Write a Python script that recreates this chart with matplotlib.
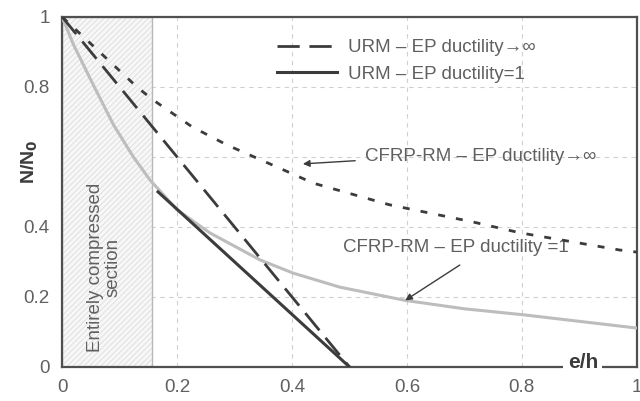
import matplotlib.pyplot as plt
from matplotlib.patches import Rectangle

plt.rcParams['font.family'] = ['Liberation Sans', 'DejaVu Sans']
plt.rcParams['hatch.linewidth'] = 0.6

# URM - EP ductility -> inf (long dashes)
urm_inf_x = [0.0, 0.5]
urm_inf_y = [1.0, 0.0]

# URM - EP ductility = 1 (solid, beyond the compressed section)
urm_1_x = [0.167, 0.5]
urm_1_y = [0.50, 0.0]

# CFRP-RM - EP ductility -> inf (short dashes)
cfrp_inf_x = [0.0, 0.028, 0.078, 0.13, 0.158, 0.226, 0.287, 0.374, 0.437, 0.57, 0.715, 0.797, 0.97, 1.0]
cfrp_inf_y = [1.0, 0.957, 0.88, 0.80, 0.763, 0.686, 0.634, 0.571, 0.525, 0.463, 0.414, 0.383, 0.334, 0.328]

# CFRP-RM - EP ductility = 1 (light grey)
cfrp_1_x = [0.0, 0.02, 0.056, 0.09, 0.124, 0.153, 0.2, 0.257, 0.344, 0.402, 0.483, 0.597, 0.7, 0.802, 1.0]
cfrp_1_y = [1.0, 0.92, 0.80, 0.69, 0.60, 0.534, 0.449, 0.383, 0.306, 0.268, 0.228, 0.19, 0.166, 0.149, 0.111]

compressed_limit = 0.157

y_ticks = [0, 0.2, 0.4, 0.6, 0.8, 1]
y_tick_labels = ['0', '0.2', '0.4', '', '0.8', '1']
x_ticks = [0, 0.2, 0.4, 0.6, 0.8, 1]
x_tick_labels = ['0', '0.2', '0.4', '0.6', '0.8', '1']

txt = '#606060'
dark = '#3c3c3c'

fig = plt.figure(figsize=(6.4, 4.01), dpi=100)
ax = fig.add_axes([0.097, 0.085, 0.898, 0.873])

ax.add_patch(Rectangle((0, 0), compressed_limit, 1.0, facecolor='#f7f7f7',
                       edgecolor='#dcdcdc', hatch='//////', linewidth=0, zorder=1))
ax.add_patch(Rectangle((0, 0), compressed_limit, 1.0, facecolor='none',
                       edgecolor='#b8b8b8', linewidth=1.0, zorder=1.5))

ax.plot(cfrp_1_x, cfrp_1_y, color='#bdbdbd', lw=2.2, zorder=3)
l1, = ax.plot(urm_inf_x, urm_inf_y, color=dark, lw=2.0, dashes=(8, 3.5), zorder=4,
              label='URM \u2013 EP ductility\u2192\u221e')
l2, = ax.plot(urm_1_x, urm_1_y, color=dark, lw=2.2, zorder=4,
              label='URM \u2013 EP ductility=1')
ax.plot(cfrp_inf_x, cfrp_inf_y, color=dark, lw=2.0, dashes=(2.5, 4), zorder=4)

ax.set_xlim(0, 1)
ax.set_ylim(0, 1)
ax.set_xticks(x_ticks)
ax.set_xticklabels(x_tick_labels)
ax.set_yticks(y_ticks)
ax.set_yticklabels(y_tick_labels)
ax.tick_params(length=0, labelsize=13.5, labelcolor=txt, pad=9)
ax.grid(True, linestyle=(0, (4, 4)), color='#d0d0d0', lw=0.8, zorder=0)
ax.set_axisbelow(True)
for s in ax.spines.values():
    s.set_color('#505050')
    s.set_linewidth(1.6)

ax.text(-0.056, 0.586, 'N/N$_\\mathbf{0}$', rotation=90, ha='center', va='center',
        fontsize=14, fontweight='bold', color=dark, transform=ax.transAxes)
ax.text(0.906, 0.012, 'e/h', ha='center', va='center', fontsize=15, fontweight='bold',
        color=dark, zorder=6, bbox=dict(facecolor='white', edgecolor='none', pad=3))

ax.text(0.073, 0.283, 'Entirely compressed\nsection', rotation=90, ha='center', va='center',
        fontsize=13.5, color=txt, linespacing=1.0, zorder=5)

ax.legend(handles=[l1, l2], loc='upper left', bbox_to_anchor=(0.345, 0.985), frameon=False,
          fontsize=13.5, labelcolor=txt, handlelength=3.2, handletextpad=0.6, labelspacing=0.5)

ax.text(0.527, 0.60, 'CFRP-RM \u2013 EP ductility\u2192\u221e', ha='left', va='center',
        fontsize=13.5, color=txt)
ax.annotate('', xy=(0.419, 0.58), xytext=(0.51, 0.589),
            arrowprops=dict(arrowstyle='-|>', color=dark, lw=1.0, shrinkA=0, shrinkB=0))
ax.text(0.489, 0.34, 'CFRP-RM \u2013 EP ductility =1', ha='left', va='center',
        fontsize=13.5, color=txt)
ax.annotate('', xy=(0.597, 0.19), xytext=(0.692, 0.291),
            arrowprops=dict(arrowstyle='-|>', color=dark, lw=1.0, shrinkA=0, shrinkB=0))

fig.savefig('out.png', dpi=100)
